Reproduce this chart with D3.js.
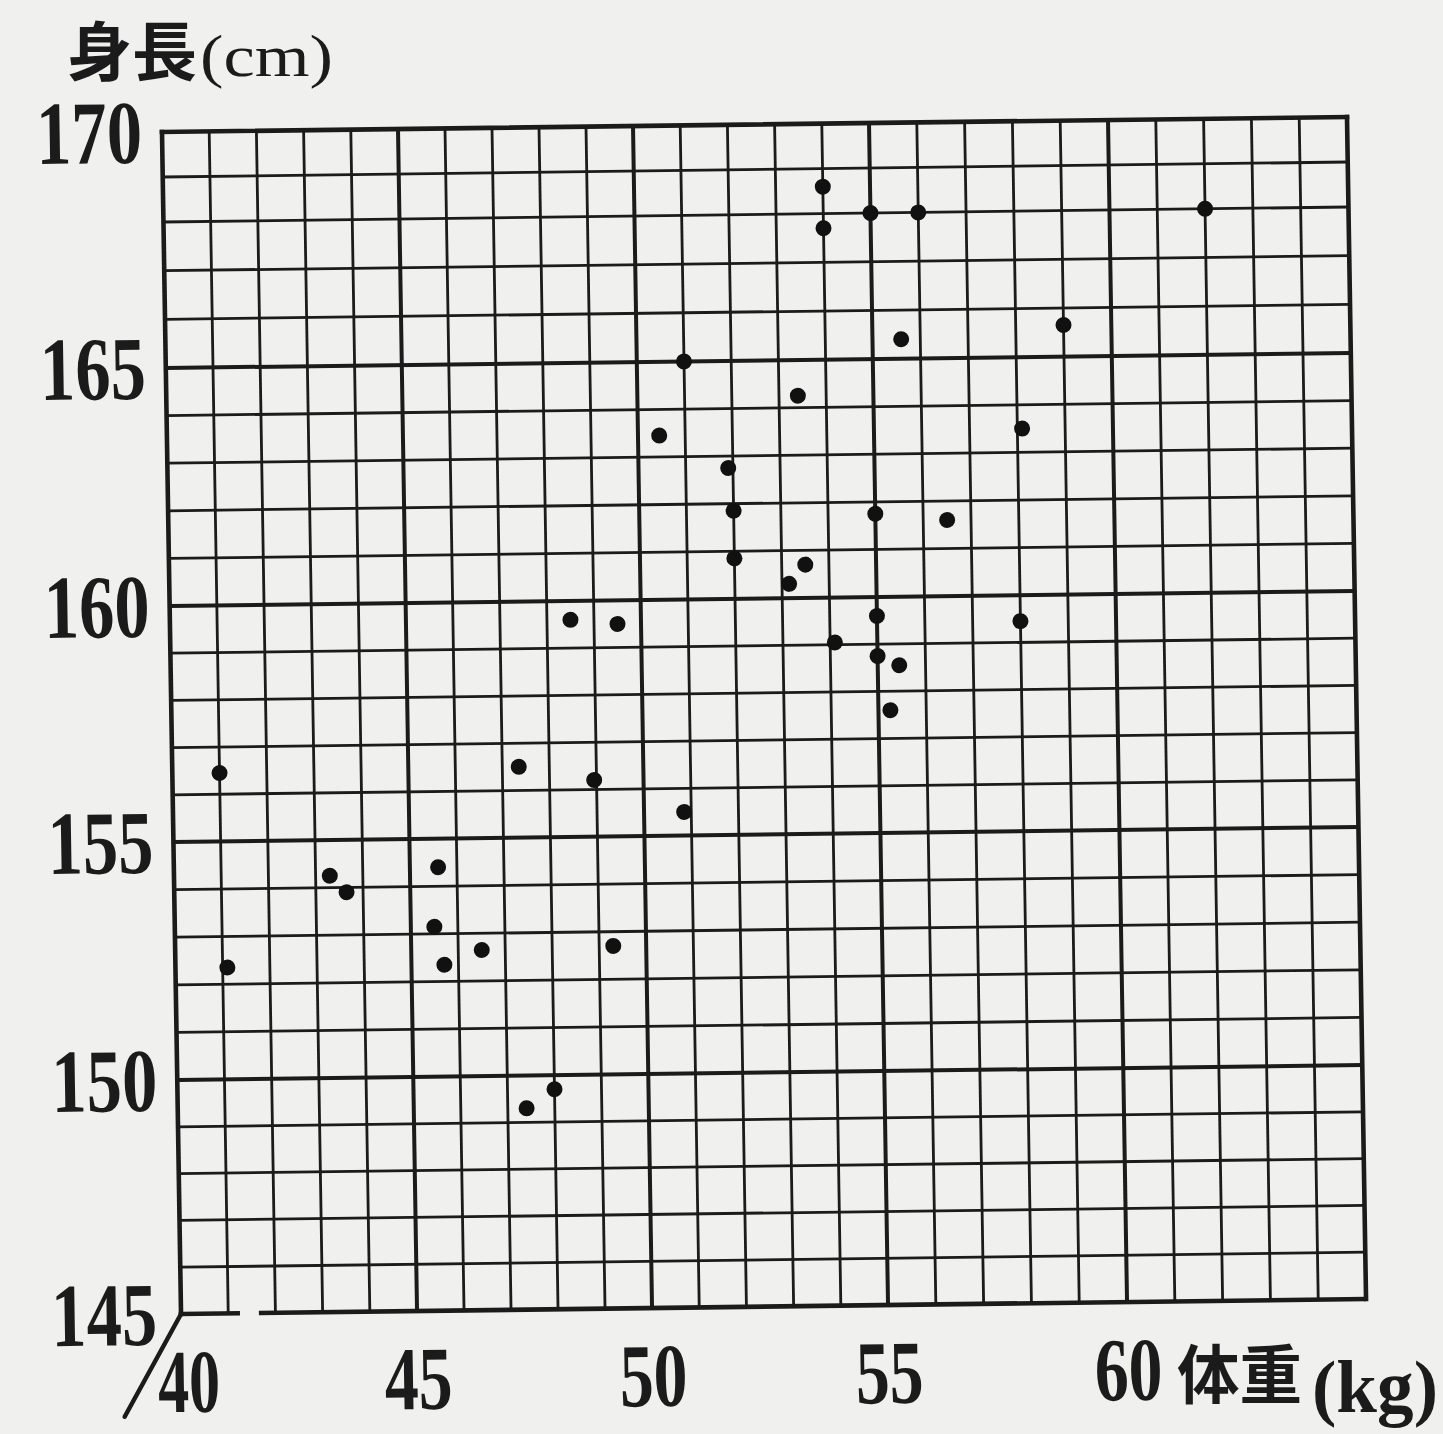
<!DOCTYPE html>
<html lang="ja">
<head>
<meta charset="utf-8">
<title>身長と体重</title>
<script src="https://cdn.jsdelivr.net/npm/d3@7"></script>
<style>
  html, body { margin: 0; padding: 0; background: #f0f0ee; }
  svg { display: block; }
</style>
</head>
<body>
<svg id="chart" width="1443" height="1434"></svg>
<script>
// 体重 (kg) and 身長 (cm) of each student, in plotting order
const weights = [54, 54, 55, 56, 62, 59, 55.6, 51, 53.4, 50.45,
                 58.1, 51.9, 52, 55, 56.5, 52, 53.5, 53.15, 48.5, 49.5,
                 55, 58, 54.1, 55, 55.45, 55.25, 41, 47.35, 48.95, 50.85,
                 43.3, 43.65, 45.6, 45.5, 45.7, 41.1, 46.5, 49.3, 47.4, 48.0];
const heights = [168.6, 167.7, 168, 168, 168, 165.65, 165.4, 165, 164.25, 163.45,
                 163.5, 162.75, 161.85, 161.75, 161.6, 160.85, 160.7, 160.3, 159.6, 159.5,
                 159.6, 159.45, 159.05, 158.75, 158.55, 157.6, 156.45, 156.5, 156.2, 155.5,
                 154.25, 153.9, 154.4, 153.15, 152.35, 152.35, 152.65, 152.7, 149.3, 149.7];

const xDomain = [40, 65];
const yDomain = [145, 170];
const xTicks = [40, 45, 50, 55, 60];
const yTicks = [145, 150, 155, 160, 165, 170];
const yTitle = ["身長", "(cm)"];
const xTitle = ["体重", "(kg)"];

const ink = "#1b1b1b";

const svg = d3.select("#chart");

// the printed graph paper is not perfectly even, so the scales
// follow its ruled lines piece by piece
const x = d3.scaleLinear()
  .domain([40, 45, 50, 55, 60, 65])
  .range([0, 236, 471, 707, 946, 1185]);
const y = d3.scaleLinear()
  .domain([145, 150, 155, 160, 165, 168, 170])
  .range([1182, 948, 710, 474, 236, 90, 0]);
const W = x(65), H = y(145);

// and it sits slightly askew on the page
const plot = svg.append("g")
  .attr("transform", "matrix(1,-0.01266,0.0161,1,162,132)");

// graph paper: 1-unit cells, heavier every 5 units
const vLines = d3.range(xDomain[0] + 1, xDomain[1]);
const hLines = d3.range(yDomain[0] + 1, yDomain[1]);

plot.append("g").selectAll("line").data(vLines).join("line")
  .attr("x1", d => x(d)).attr("x2", d => x(d))
  .attr("y1", 0).attr("y2", H)
  .attr("stroke", ink)
  .attr("stroke-width", d => d % 5 === 0 ? 4 : 2.8);

plot.append("g").selectAll("line").data(hLines).join("line")
  .attr("x1", 0).attr("x2", W)
  .attr("y1", d => y(d)).attr("y2", d => y(d))
  .attr("stroke", ink)
  .attr("stroke-width", d => d % 5 === 0 ? 4 : 2.8);

// frame; the bottom edge is broken just after the origin
const frame = plot.append("g")
  .attr("stroke", ink).attr("stroke-width", 4.6);
const edge = (x1, y1, x2, y2, cap) => frame.append("line")
  .attr("x1", x(x1)).attr("y1", y(y1)).attr("x2", x(x2)).attr("y2", y(y2))
  .attr("stroke-linecap", cap);
edge(40, 170, 65, 170, "square");
edge(40, 170, 40, 145, "square");
edge(65, 170, 65, 145, "square");
edge(40, 145, 41.2, 145, "square");
edge(41.65, 145, 65, 145, "butt");

// slash marking the shifted origin
plot.append("line")
  .attr("x1", x(40)).attr("y1", y(145))
  .attr("x2", x(40) - 58).attr("y2", y(145) + 102)
  .attr("stroke", ink).attr("stroke-width", 4.5).attr("stroke-linecap", "round");

// axes — tall, narrow bold numerals
const numFont = "'Liberation Serif', 'Times New Roman', serif";

const yAxis = plot.append("g")
  .call(d3.axisLeft(y).tickValues(yTicks).tickSize(0).tickFormat(d3.format("d")));
yAxis.select(".domain").remove();
yAxis.selectAll("text")
  .attr("x", 0)
  .attr("dy", null)
  .attr("transform", d => `translate(${d === 145 ? -24 : -20},30) scale(0.785,1)`)
  .attr("text-anchor", "end")
  .attr("fill", ink)
  .style("font-family", numFont)
  .style("font-weight", "bold")
  .style("font-size", "90px");

const xAxis = plot.append("g")
  .attr("transform", `translate(0,${H})`)
  .call(d3.axisBottom(x).tickValues(xTicks).tickSize(0).tickFormat(d3.format("d")));
xAxis.select(".domain").remove();
xAxis.selectAll("text")
  .attr("y", 0)
  .attr("dy", null)
  .attr("transform", d => `translate(${d === 40 ? 6.5 : 0},98) scale(${d === 40 ? 0.69 : 0.755},1)`)
  .attr("text-anchor", "middle")
  .attr("fill", ink)
  .style("font-family", numFont)
  .style("font-weight", "bold")
  .style("font-size", "90px");

// data points
plot.append("g").selectAll("circle").data(d3.zip(weights, heights)).join("circle")
  .attr("cx", d => x(d[0]))
  .attr("cy", d => y(d[1]))
  .attr("r", 8)
  .attr("fill", "#111");

// axis titles
const cjkFont = "'Noto Sans CJK JP', 'Noto Sans CJK SC', sans-serif";

svg.append("text")
  .attr("x", 67).attr("y", 75)
  .attr("fill", ink)
  .style("font-family", cjkFont).style("font-weight", "bold").style("font-size", "64px")
  .attr("textLength", 130).attr("lengthAdjust", "spacingAndGlyphs")
  .text(yTitle[0]);
svg.append("text")
  .attr("x", 200).attr("y", 76)
  .attr("fill", ink)
  .style("font-family", numFont).style("font-size", "60px")
  .attr("textLength", 133).attr("lengthAdjust", "spacingAndGlyphs")
  .text(yTitle[1]);

svg.append("text")
  .attr("x", 1177).attr("y", 1398)
  .attr("fill", ink)
  .style("font-family", cjkFont).style("font-weight", "bold").style("font-size", "64px")
  .attr("textLength", 125).attr("lengthAdjust", "spacingAndGlyphs")
  .text(xTitle[0]);
svg.append("text")
  .attr("x", 1312).attr("y", 1412)
  .attr("fill", ink)
  .style("font-family", numFont).style("font-weight", "bold").style("font-size", "74px")
  .attr("textLength", 126).attr("lengthAdjust", "spacingAndGlyphs")
  .text(xTitle[1]);
</script>
</body>
</html>
